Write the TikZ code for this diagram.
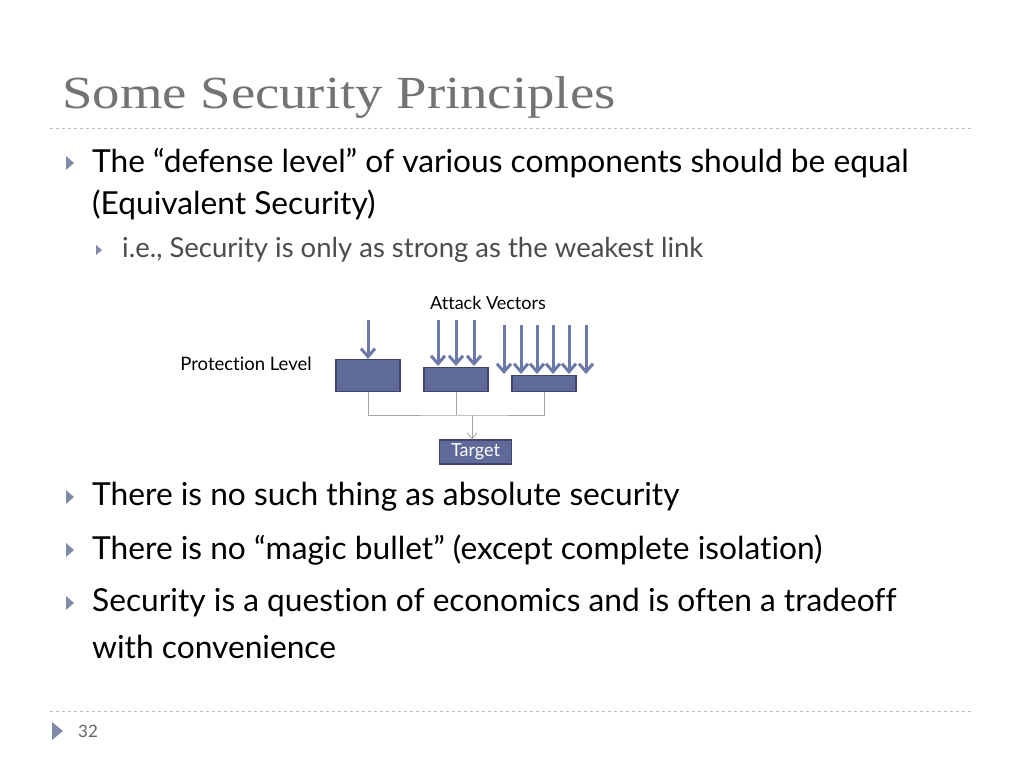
\documentclass[tikz,border=0pt]{standalone}
\usepackage{fontspec}
\setsansfont{Lato}[Ligatures={TeX,NoCommon,NoContextual}]
\setmainfont{Liberation Serif}
\usetikzlibrary{arrows.meta}
\definecolor{boxfill}{HTML}{5F6A9A}
\definecolor{boxline}{HTML}{3E466E}
\definecolor{arrowcol}{HTML}{6C78A8}
\definecolor{bulletcol}{HTML}{7F8AA6}
\begin{document}
\begin{tikzpicture}[x=1pt,y=-1pt]
	\tikzstyle{level}=[draw=boxline,fill=boxfill,line width=1.2pt]
	\tikzstyle{vec}=[arrowcol,line width=3pt,-{Straight Barb[width=14pt,length=8pt,line width=3pt]}]
	\tikzstyle{wire}=[gray!70,line width=0.8pt]
	\tikzstyle{txt}=[anchor=west,inner sep=0pt,font=\sffamily]
	\tikzstyle{bullet}=[fill=bulletcol,draw=none]
	\useasboundingbox (0,0) rectangle (1024,768);
	\node[anchor=west,inner sep=0pt,text=black!55,font=\rmfamily\fontsize{46}{52}\selectfont] (title) at (62,98) {\scalebox{1.19}[1]{Some Security Principles}};
	\draw[gray!50,dashed,line width=0.8pt] (50,128) -- (972,128);
	\draw[gray!50,dashed,line width=0.8pt] (50,711) -- (972,711);
	% bullets
	\foreach \y in {163,497,550,603} { \fill[bullet] (66,{\y-7}) -- (74,\y) -- (66,{\y+7}) -- cycle; }
	\fill[bullet] (96,{250-5}) -- (102,250) -- (96,{250+5}) -- cycle;
	\fill[bullet] (52,{731-9}) -- (63,731) -- (52,{731+9}) -- cycle;
	\node[txt,font=\sffamily\fontsize{31.7}{36}\selectfont] (t1) at (92,163) {The ``defense level'' of various components should be equal};
	\node[txt,font=\sffamily\fontsize{31.7}{36}\selectfont] (t2) at (92,205) {(Equivalent Security)};
	\node[txt,text=black!70,font=\sffamily\fontsize{27.5}{32}\selectfont] (t3) at (122,250) {i.e., Security is only as strong as the weakest link};
	\node[txt,font=\sffamily\fontsize{31.7}{36}\selectfont] (t4) at (92,497) {There is no such thing as absolute security};
	\node[txt,font=\sffamily\fontsize{31.7}{36}\selectfont] (t5) at (92,550) {There is no ``magic bullet'' (except complete isolation)};
	\node[txt,font=\sffamily\fontsize{31.7}{36}\selectfont] (t6) at (92,603) {Security is a question of economics and is often a tradeoff};
	\node[txt,font=\sffamily\fontsize{31.7}{36}\selectfont] (t7) at (92,647) {with convenience};
	\node[txt,text=black!60,font=\sffamily\fontsize{17}{20}\selectfont] (page) at (78,731) {32};
	% diagram
	\node[txt,font=\sffamily\fontsize{18}{21}\selectfont,anchor=center] (attack) at (488,303) {Attack Vectors};
	\node[txt,font=\sffamily\fontsize{18.5}{21}\selectfont,anchor=center] (prot) at (246,364) {Protection Level};
	\node[level,minimum width=64pt,minimum height=32pt,inner sep=0pt] (b1) at (368,375.5) {};
	\node[level,minimum width=64pt,minimum height=24pt,inner sep=0pt] (b2) at (456,379.5) {};
	\node[level,minimum width=64pt,minimum height=16pt,inner sep=0pt] (b3) at (544,383.5) {};
	\node[level,minimum width=72pt,minimum height=24pt,inner sep=0pt,text=white,font=\sffamily\fontsize{18}{20}\selectfont] (target) at (475.5,452) {Target};
	\draw[vec] (368,320) -- (b1.north);
	\foreach \x in {438,456,474} { \draw[vec] (\x,320) -- (\x,366); }
	\foreach \x in {504,521,537,553,569,586} { \draw[vec] (\x,325) -- (\x,374); }
	\coordinate (j) at (472,415);
	\draw[wire] (b1.south) |- (j) -| (b3.south);
	\draw[wire] (b2.south) -- (b2.south |- j);
	\draw[wire,-{Straight Barb[length=6pt,width=10pt]}] (j) -- (target.north -| j);
\end{tikzpicture}
\end{document}
